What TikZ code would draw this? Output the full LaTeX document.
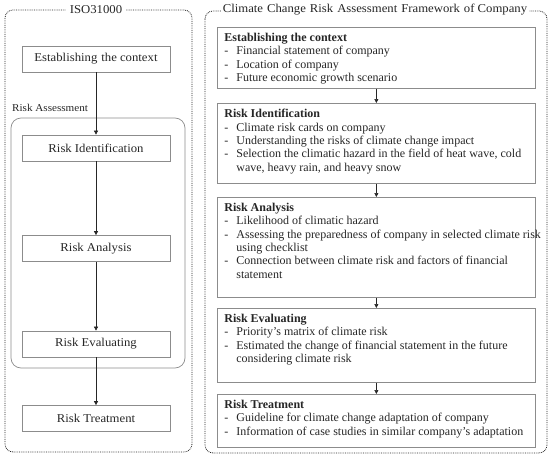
\documentclass[tikz,border=0pt]{standalone}
\usepackage{fontspec}
\setmainfont{Liberation Serif}[FakeStretch=1.06]
\newfontfamily\bodyfont{Liberation Serif}[Ligatures=TeX]
\usetikzlibrary{arrows.meta}
\definecolor{bordergray}{HTML}{8C8C8C}
\definecolor{txt}{HTML}{262626}
\newcommand{\itm}[1]{\mbox{\makebox[12pt][l]{-}#1}}
\newcommand{\cnt}[1]{\mbox{\hspace*{12pt}#1}}
\begin{document}
\begin{tikzpicture}[x=1pt,y=-1pt,
  outer/.style={draw=txt, densely dotted, line width=0.8pt, rounded corners=8pt},
  lbox/.style={draw=bordergray, line width=0.7pt, minimum width=148pt, minimum height=26pt, inner sep=0pt,
     font=\fontsize{12}{14}\selectfont, text=txt},
  rbox/.style={draw=bordergray, line width=0.7pt, anchor=north west, inner xsep=7pt, inner ysep=6pt,
     font=\bodyfont\fontsize{12}{13.3}\selectfont, text=txt, align=left},
  title/.style={fill=white, inner xsep=4pt, inner ysep=1pt, font=\fontsize{12}{14}\selectfont, text=txt},
  arr/.style={draw=txt, line width=0.6pt, -{Triangle[length=4pt,width=4pt]}}
]
\useasboundingbox (0,0) rectangle (550,458);
% outer dotted frames
\draw[outer] (5,10) rectangle (192,452);
\draw[outer] (205,11) rectangle (547,453);
\node[title] (isotitle) at (96,10) {ISO31000};
\node[title, inner xsep=2pt] (cctitle) at (375,10) {Climate\,\,Change\,\,Risk\,\,Assessment\,\,Framework\,\,of Company};

% left column
\node[anchor=south west, inner sep=0pt, font=\fontsize{10.5}{12}\selectfont, text=txt] (ralabel) at (12,112) {Risk Assessment};
\draw[draw=bordergray, line width=0.7pt, rounded corners=10pt] (11,118) rectangle (185,368);
\node[lbox] (l1) at (96,59) {Establishing\,\,the context};
\node[lbox] (l2) at (96,148) {Risk Identification};
\node[lbox] (l3) at (96,248.5) {Risk Analysis};
\node[lbox] (l4) at (96,344) {Risk Evaluating};
\node[lbox] (l5) at (96,418.5) {Risk Treatment};
\draw[arr] (l1) -- (l2);
\draw[arr] (l2) -- (l3);
\draw[arr] (l3) -- (l4);
\draw[arr] (l4) -- (l5);

% right column
\node[rbox] (r1) at (217,27) {\parbox[t][49pt][t]{304pt}{\raggedright\textbf{Establishing the context}\\
\itm{Financial statement of company}\\
\itm{Location of company}\\
\itm{Future economic growth scenario}}};
\node[rbox] (r2) at (217,103) {\parbox[t][68pt][t]{304pt}{\raggedright\textbf{Risk Identification}\\
\itm{Climate risk cards on company}\\
\itm{Understanding the risks of climate change impact}\\
\itm{Selection the climatic hazard in the field of heat wave, cold}\\
\cnt{wave, heavy rain, and heavy snow}}};
\node[rbox] (r3) at (217,197) {\parbox[t][88pt][t]{304pt}{\raggedright\textbf{Risk Analysis}\\
\itm{Likelihood of climatic hazard}\\
\itm{Assessing the preparedness of company in selected climate risk}\\
\cnt{using checklist}\\
\itm{Connection between climate risk and factors of financial}\\
\cnt{statement}}};
\node[rbox] (r4) at (217,308) {\parbox[t][62pt][t]{304pt}{\raggedright\textbf{Risk Evaluating}\\
\itm{Priority’s matrix of climate risk}\\
\itm{Estimated the change of financial statement in the future}\\
\cnt{considering climate risk}}};
\node[rbox] (r5) at (217,394) {\parbox[t][41pt][t]{304pt}{\raggedright\textbf{Risk Treatment}\\
\itm{Guideline for climate change adaptation of company}\\
\itm{Information of case studies in similar company’s adaptation}}};
\draw[arr] (r1.south) -- (r2.north);
\draw[arr] (r2.south) -- (r3.north);
\draw[arr] (r3.south) -- (r4.north);
\draw[arr] (r4.south) -- (r5.north);
\end{tikzpicture}
\end{document}
